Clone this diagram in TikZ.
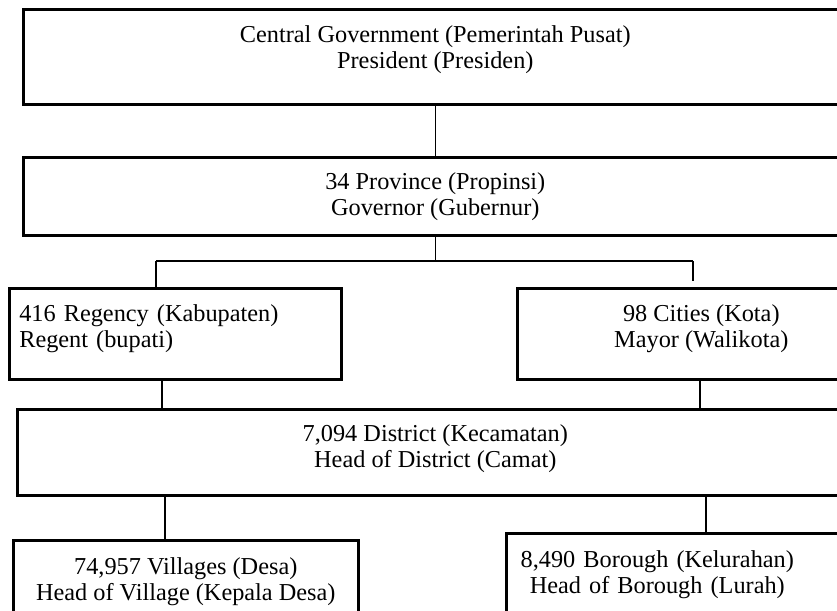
\documentclass[tikz,border=0pt]{standalone}
\usepackage{fontspec}
\setmainfont{Liberation Serif}
\usetikzlibrary{calc}
\newcommand{\dn}[1]{\rule[-#1]{0pt}{1pt}}
\newcommand{\cl}[1]{\makebox[302pt][c]{#1}}
\begin{document}
\begin{tikzpicture}[x=1pt,y=-1pt,
  box/.style={draw, line width=2.6pt, rectangle, anchor=north west, inner sep=0pt, align=center,
    font=\fontsize{24.3}{26}\selectfont},
  link/.style={line width=1.1pt}]
\useasboundingbox (0,0) rectangle (837,610);
\clip (0,0) rectangle (837,610);
\node[box, minimum width=824, minimum height=95] (central) at (22,8)
  {Central Government (Pemerintah Pusat)\\President (Presiden)\dn{20pt}};
\node[box, minimum width=824, minimum height=78] (province) at (22,156)
  {34 Province (Propinsi)\\Governor (Gubernur)};
\node[box, minimum width=332, minimum height=91, inner xsep=10pt, text width=312pt, align=left] (regency) at (8,287)
  {416 Regency (Kabupaten)\\Regent (bupati)\dn{16pt}};
\node[box, minimum width=368, minimum height=91] (cities) at (516,287)
  {98 Cities (Kota)\\Mayor (Walikota)\dn{16pt}};
\node[box, minimum width=836, minimum height=86] (district) at (16,408)
  {7,094 District (Kecamatan)\\Head of District (Camat)\dn{13pt}};
\node[box, minimum width=345, minimum height=82] (villages) at (12,539)
  {74,957 Villages (Desa)\\Head of Village (Kepala Desa)};
\node[box, minimum width=345, minimum height=82, text width=345pt, align=left] (borough) at (505,532)
  {\cl{8,490 Borough (Kelurahan)}\\\cl{Head of Borough (Lurah)}};
% connectors
\coordinate (jL) at (156,261);
\coordinate (jR) at (693,261);
\draw[link] (central.south) -- (province.north);
\draw[link] (province.south) -- (province.south |- jL);
\draw[link] (jL) -- (jR);
\draw[link] (jL) -- (jL |- regency.north);
\draw[link, shorten >=6pt] (jR) -- (jR |- cities.north);
\coordinate (rd) at (162,378);
\coordinate (cd) at (700,378);
\draw[link] (rd |- regency.south) -- (rd |- district.north);
\draw[link] (cd |- cities.south) -- (cd |- district.north);
\coordinate (dv) at (165,494);
\coordinate (db) at (706,494);
\draw[link] (dv |- district.south) -- (dv |- villages.north);
\draw[link] (db |- district.south) -- (db |- borough.north);
\end{tikzpicture}
\end{document}
